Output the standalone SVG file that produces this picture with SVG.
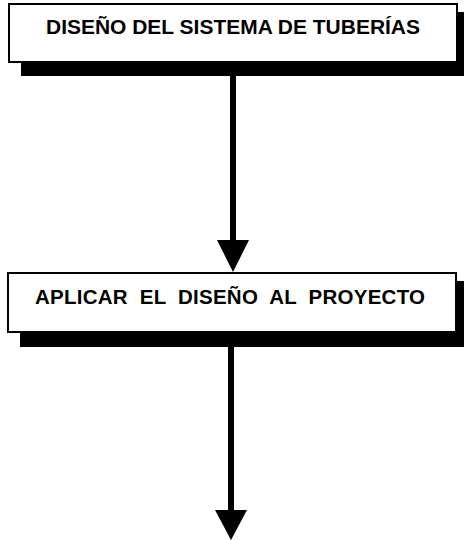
<svg xmlns="http://www.w3.org/2000/svg" width="464" height="540" viewBox="0 0 464 540">
<style>
.box{fill:#fff;stroke:#000;stroke-width:2}
.shadow{fill:#000}
.lbl{font-family:"Liberation Sans",Arial,sans-serif;font-weight:bold;font-size:20.5px;fill:#000}
.line{stroke:#000;stroke-width:6;fill:none}
.head{fill:#000}
</style>
<rect width="464" height="540" fill="#fff"/>
<g id="connectors">
<line class="line" x1="233" y1="76" x2="233" y2="244"/>
<polygon class="head" points="217,240 249,240 233,272"/>
<line class="line" x1="231" y1="347" x2="231" y2="514"/>
<polygon class="head" points="215,510 247,510 231,540"/>
</g>
<g id="node1">
<rect class="shadow" x="21" y="12" width="443" height="64"/>
<rect class="box" x="9" y="4" width="448" height="58"/>
<text class="lbl" x="46" y="33.5" textLength="374" lengthAdjust="spacingAndGlyphs">DISEÑO DEL SISTEMA DE TUBERÍAS</text>
</g>
<g id="node2">
<rect class="shadow" x="20" y="281" width="444" height="66"/>
<rect class="box" x="8" y="273" width="448" height="59"/>
<text class="lbl" x="35" y="303.5" textLength="390" xml:space="preserve">APLICAR  EL  DISEÑO  AL  PROYECTO</text>
</g>
</svg>
